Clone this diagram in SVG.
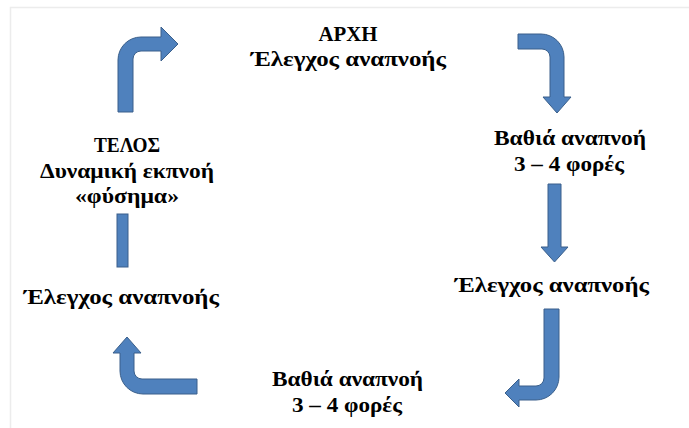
<svg xmlns="http://www.w3.org/2000/svg" width="689" height="428" viewBox="0 0 689 428">
<style>
.arr{fill:#4F81BD;stroke:#3A5F8B;stroke-width:1;stroke-linejoin:miter}
.t{fill:#000;text-anchor:middle}
.frame{stroke:#ececec;stroke-width:1.5;fill:none}
</style>
<rect width="689" height="428" fill="#fff"/>
<path class="frame" d="M10.5,428 L10.5,7.5 L689,7.5"/>
<g id="connectors">
<path id="c1" class="arr" d="M118,112 L118,60 A23,23 0 0 1 141,37 L161,37 L161,27 L178,44 L161,61 L161,51 L141,51 A8,8 0 0 0 133,59 L133,112 Z"/>
<path id="c2" class="arr" d="M518,34 L541,34 A23,23 0 0 1 564,57 L564,97 L571,97 L557,113 L543,97 L550,97 L550,57 A8,8 0 0 0 542,49 L518,49 Z"/>
<path id="c3" class="arr" d="M548,184 L561,184 L561,247 L568,247 L554.5,262 L541,247 L548,247 Z"/>
<path id="c4" class="arr" d="M544,309 L559,309 L559,377 A23,23 0 0 1 536,400 L519,400 L519,407 L505,393 L519,379 L519,386 L536,386 A8,8 0 0 0 544,378 Z"/>
<path id="c5" class="arr" d="M197,379 L142,379 A8,8 0 0 1 134,371 L134,353 L141,353 L127,337 L113,353 L120,353 L120,371 A23,23 0 0 0 143,394 L197,394 Z"/>
<rect id="c6" class="arr" x="117" y="214" width="11" height="53"/>
</g>
<g font-family="Liberation Serif" font-weight="bold" font-size="22">
<g id="n-start">
<text class="t" x="348" y="41" textLength="59" lengthAdjust="spacingAndGlyphs">ΑΡΧΗ</text>
<text class="t" x="348.5" y="66" textLength="195" lengthAdjust="spacingAndGlyphs">Έλεγχος αναπνοής</text>
</g>
<g id="n-deep1">
<text class="t" x="570" y="145" textLength="152" lengthAdjust="spacingAndGlyphs">Βαθιά αναπνοή</text>
<text class="t" x="569" y="171" textLength="110" lengthAdjust="spacingAndGlyphs">3 – 4 φορές</text>
</g>
<g id="n-check2">
<text class="t" x="552" y="292" textLength="194" lengthAdjust="spacingAndGlyphs">Έλεγχος αναπνοής</text>
</g>
<g id="n-deep2">
<text class="t" x="347.5" y="386" textLength="151" lengthAdjust="spacingAndGlyphs">Βαθιά αναπνοή</text>
<text class="t" x="347" y="412" textLength="110" lengthAdjust="spacingAndGlyphs">3 – 4 φορές</text>
</g>
<g id="n-check3">
<text class="t" x="121.5" y="304" textLength="195" lengthAdjust="spacingAndGlyphs">Έλεγχος αναπνοής</text>
</g>
<g id="n-end">
<text class="t" x="127" y="152" textLength="66" lengthAdjust="spacingAndGlyphs">ΤΕΛΟΣ</text>
<text class="t" x="127" y="178" textLength="174" lengthAdjust="spacingAndGlyphs">Δυναμική εκπνοή</text>
<text class="t" x="127" y="203" textLength="104" lengthAdjust="spacingAndGlyphs">«φύσημα»</text>
</g>
</g>
</svg>
